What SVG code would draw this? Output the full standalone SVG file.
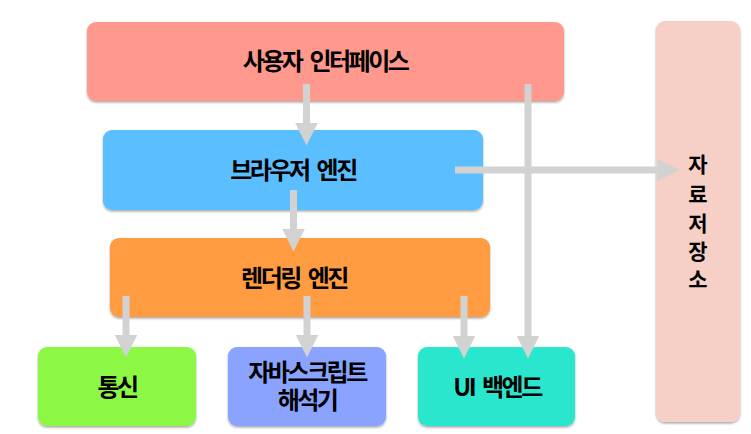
<svg xmlns="http://www.w3.org/2000/svg" width="751" height="434" viewBox="0 0 751 434">
<defs>
<filter id="sh" x="-10%" y="-10%" width="120%" height="130%">
<feDropShadow dx="0" dy="1.5" stdDeviation="1.2" flood-color="#000" flood-opacity="0.35"/>
</filter>
<marker id="ah" markerUnits="userSpaceOnUse" markerWidth="23" markerHeight="24" viewBox="0 0 23 24" refX="0.5" refY="12" orient="auto">
<path d="M0,0.5 L23,12 L0,23.5 z" fill="#d2d2d2"/>
</marker>
<style>
.box{filter:url(#sh)}
.lbl{font-family:"Noto Sans CJK KR","Noto Sans",sans-serif;font-weight:bold;font-size:24px;letter-spacing:-2.5px;word-spacing:5px;fill:#000;text-anchor:middle;dominant-baseline:central}
.v{font-size:21px;letter-spacing:0;word-spacing:0}
.c{stroke:#d2d2d2;stroke-width:7;fill:none}
</style>
</defs>
<rect x="0" y="0" width="751" height="434" fill="#fff"/>
<g id="storage"><rect class="box" x="656" y="21" width="84" height="401" rx="9" fill="#f6d0c7"/>
<text class="lbl v" x="698"><tspan x="698" y="163">자</tspan><tspan x="698" y="193">료</tspan><tspan x="698" y="222">저</tspan><tspan x="698" y="250">장</tspan><tspan x="698" y="278">소</tspan></text></g>
<g id="ui"><rect class="box" x="87" y="22" width="477" height="79" rx="9" fill="#ff998d"/><text class="lbl" x="325" y="59">사용자 인터페이스</text></g>
<g id="browser"><rect class="box" x="103" y="130" width="380" height="80" rx="9" fill="#5abeff"/><text class="lbl" x="293" y="168">브라우저 엔진</text></g>
<g id="rendering"><rect class="box" x="110" y="238" width="380" height="79" rx="9" fill="#ff9b41"/><text class="lbl" x="294" y="276">렌더링 엔진</text></g>
<g id="network"><rect class="box" x="38" y="347" width="158" height="79" rx="9" fill="#8cf745"/><text class="lbl" x="117" y="385">통신</text></g>
<g id="js"><rect class="box" x="228" y="347" width="158" height="79" rx="9" fill="#89a3ff"/><text class="lbl" x="307"><tspan x="307" y="370">자바스크립트</tspan><tspan x="307" y="398">해석기</tspan></text></g>
<g id="uibackend"><rect class="box" x="418" y="347" width="157" height="79" rx="9" fill="#2ae6cd"/><text class="lbl" x="497" y="385">UI 백엔드</text></g>
<g id="connectors">
<path class="c" d="M306.5,84 V123" marker-end="url(#ah)"/>
<path class="c" d="M528,84 V336" marker-end="url(#ah)"/>
<path class="c" d="M455,170 H657" marker-end="url(#ah)"/>
<path class="c" d="M293.5,190 V229" marker-end="url(#ah)"/>
<path class="c" d="M126,296 V335" marker-end="url(#ah)"/>
<path class="c" d="M307,296 V335" marker-end="url(#ah)"/>
<path class="c" d="M464,296 V336" marker-end="url(#ah)"/>
</g>
</svg>
